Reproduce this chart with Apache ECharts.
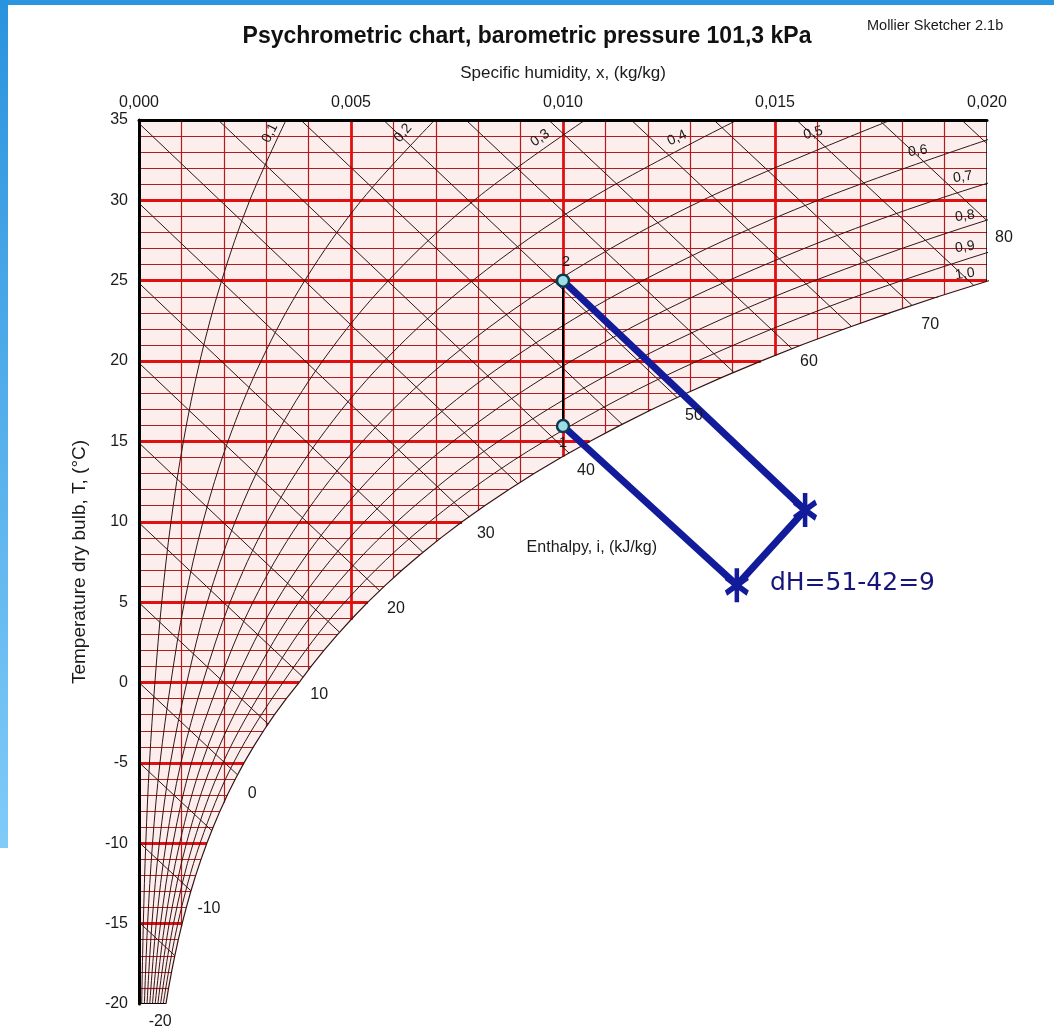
<!DOCTYPE html>
<html><head><meta charset="utf-8">
<script src="https://cdn.jsdelivr.net/npm/echarts@6/dist/echarts.min.js"></script>
<style>html,body{margin:0;padding:0;background:#fff}#c{width:1054px;height:1028px}</style>
</head><body><div id="c"></div>
<script>
// ---------------- data ----------------
// saturation curve (RH = 1,0): specific humidity at each dry-bulb temperature
const satT = [-20,-19,-18,-17,-16,-15,-14,-13,-12,-11,-10,-9,-8,-7,-6,-5,-4,-3,-2,-1,0,1,2,3,4,5,6,7,8,9,10,11,12,13,14,15,16,17,18,19,20,21,22,23,24,25,26];
const satX = [0.000635,0.000698,0.000768,0.000844,0.000927,0.001017,0.001115,0.001221,0.001337,0.001463,0.0016,0.001748,0.001909,0.002083,0.002272,0.002476,0.002698,0.002937,0.003195,0.003474,0.003774,0.004059,0.004362,0.004686,0.005031,0.005398,0.005789,0.006206,0.006649,0.00712,0.00762,0.008152,0.008717,0.009317,0.009954,0.010629,0.011345,0.012104,0.012909,0.013762,0.014665,0.015622,0.016634,0.017706,0.01884,0.020039,0.021307];

// constant humidity lines and the temperature where each meets saturation
const gridX    = [0.001,0.002,0.003,0.004,0.005,0.006,0.007,0.008,0.009,0.010,0.011,0.012,0.013,0.014,0.015,0.016,0.017,0.018,0.019];
const gridDewT = [-15.19,-7.48,-2.76,0.79,3.91,6.51,8.75,10.71,12.47,14.07,15.52,16.86,18.11,19.26,20.35,21.37,22.34,23.26,24.13];

// constant enthalpy lines (kJ/kg): start and end points
const hVals   = [-20,-15,-10,-5,0,5,10,15,20,25,30,35,40,45,50,55,60,65,70,75,80,85];
const hStartX = [0,0,0,0,0,0,0,0,0,0,0,0,0.001867,0.003815,0.005764,0.007712,0.009661,0.011609,0.013558,0.015506,0.017455,0.019403];
const hStartT = [-19.88,-14.91,-9.94,-4.97,0,4.97,9.94,14.91,19.88,24.85,29.82,34.79,35,35,35,35,35,35,35,35,35,35];
const hEndX   = [0.00005,0.000845,0.001226,0.001717,0.002324,0.003044,0.003867,0.004729,0.005676,0.006697,0.007787,0.008937,0.010142,0.011394,0.012692,0.014028,0.015399,0.016801,0.018232,0.019688,0.02,0.02];
const hEndT   = [-20,-16.99,-12.96,-9.21,-5.74,-2.58,0.33,3.13,5.71,8.10,10.31,12.37,14.28,16.07,17.73,19.30,20.77,22.16,23.46,24.71,28.74,33.53];

// relative humidity curves
const rhT  = [-20,-15,-10,-5,0,5,10,15,20,25,30,35];
const rh10 = [0.0000634,0.000102,0.00016,0.000247,0.000375,0.000536,0.000754,0.001047,0.001436,0.001948,0.002612,0.003469];
const rh20 = [0.000127,0.000203,0.000319,0.000494,0.000751,0.001072,0.001509,0.002097,0.002879,0.003907,0.005247,0.006976];
const rh30 = [0.00019,0.000305,0.000479,0.000741,0.001127,0.00161,0.002267,0.003151,0.004328,0.005879,0.007903,0.010523];
const rh40 = [0.000254,0.000406,0.000639,0.000988,0.001504,0.002148,0.003026,0.004209,0.005784,0.007864,0.010583,0.01411];
const rh50 = [0.000317,0.000508,0.000799,0.001236,0.001881,0.002687,0.003787,0.00527,0.007247,0.009861,0.013285,0.017738];
const rh60 = [0.000381,0.00061,0.000959,0.001483,0.002259,0.003228,0.00455,0.006334,0.008717,0.011871,0.01601,0.021408];
const rh70 = [0.000444,0.000712,0.001119,0.001731,0.002637,0.003769,0.005315,0.007403,0.010194,0.013893,0.018759,0.02512];
const rh80 = [0.000508,0.000813,0.001279,0.001979,0.003016,0.004311,0.006081,0.008474,0.011677,0.015929,0.021531,0.028876];
const rh90 = [0.000571,0.000915,0.00144,0.002228,0.003395,0.004854,0.00685,0.00955,0.013168,0.017978,0.024328,0.032674];

// curve labels
const rhLabels = ['0,1','0,2','0,3','0,4','0,5','0,6','0,7','0,8','0,9','1,0'];
const rhLabelX = [0.00309,0.00623,0.00946,0.01269,0.0159,0.01837,0.01943,0.01948,0.01948,0.01948];
const rhLabelT = [34.19,34.19,33.88,33.88,34.19,33.07,31.45,29.03,27.10,25.42];
const rhLabelRot = [63,50,35,25,15,8,8,8,8,8];
const hLabels = ['-20','-10','0','10','20','30','40','50','60','70','80'];
const hLabelX = [0.0005,0.00165,0.00267,0.00425,0.00606,0.00818,0.01054,0.01309,0.0158,0.01866,0.0204];
const hLabelT = [-21.07,-14.04,-6.88,-0.78,4.57,9.24,13.16,16.64,19.94,22.24,27.66];

// air treatment process: points 2 -> A -> B -> 1
const procX = [0.010,0.01571,0.01410,0.010];
const procT = [25.0,10.73,6.06,15.96];

// ---------------- build ----------------
const X_MAX = 0.02, T_MIN = -20, T_MAX = 35;
const RED_THIN = '#b31c1c', RED_BOLD = '#e01010', DARK = '#351414';

const isoData = [];
for (let T = T_MIN; T < T_MAX; T++) {
  const i = satT.indexOf(T);
  const xe = i >= 0 ? Math.min(satX[i], X_MAX) : X_MAX;
  let ls;
  if (T === T_MIN) ls = {color:'#000', width:3, opacity:1};
  else if (T % 5 === 0) ls = {color:RED_BOLD, width:2.8, opacity:1};
  else ls = {color:RED_THIN, width:1.2, opacity:1};
  isoData.push({coords:[[0,T],[xe,T]], lineStyle:ls});
}
const vertData = gridX.map((x,i) => {
  const bold = Math.abs(Math.round(x*1000) % 5) === 0;
  return {coords:[[x,gridDewT[i]],[x,T_MAX]], lineStyle: bold ? {color:RED_BOLD,width:2.8,opacity:1} : {color:RED_THIN,width:1.2,opacity:1}};
});
vertData.push({coords:[[X_MAX,24.97],[X_MAX,T_MAX]], lineStyle:{color:'#000',width:2.5,opacity:1}});
const hData = hVals.map((h,i) => ({coords:[[hStartX[i],hStartT[i]],[hEndX[i],hEndT[i]]]}));

const rhSeries = [rh10,rh20,rh30,rh40,rh50,rh60,rh70,rh80,rh90].map(arr => ({
  type:'line', data: arr.map((x,i)=>[x,rhT[i]]), showSymbol:false, smooth:0.35,
  clip:true, silent:true, z:3, lineStyle:{color:DARK,width:1}
}));

// shaded chart body (between the temperature axis and saturation)
const bodyPts = [[0,T_MIN]];
satT.forEach((T,i)=>{ if (satX[i] <= X_MAX) bodyPts.push([satX[i],T]); });
bodyPts.push([X_MAX,24.97],[X_MAX,T_MAX],[0,T_MAX]);

const asterisk = 'path://M9.8,0L14.2,0L14.2,24L9.8,24Z M0.3,8.3L2.5,4.5L23.7,15.7L21.5,19.5Z M2.5,19.5L0.3,15.7L21.5,4.5L23.7,8.3Z';

const FONT = 'Liberation Sans, Arial, sans-serif';
const labelData = [];
rhLabels.forEach((t,i)=>labelData.push({value:[rhLabelX[i],rhLabelT[i]], label:{formatter:t, rotate:rhLabelRot[i], fontSize:14}}));
hLabels.forEach((t,i)=>labelData.push({value:[hLabelX[i],hLabelT[i]], label:{formatter:t, fontSize:16}}));
labelData.push({value:[0.01068,8.37], label:{formatter:'Enthalpy, i, (kJ/kg)', fontSize:16}});
labelData.push({value:[0.01007,26.2], label:{formatter:'2', fontSize:15}});
labelData.push({value:[0.01,14.9], label:{formatter:'1', fontSize:15}});

const option = {
  animation:false,
  backgroundColor:'#fff',
  title:{text:'Psychrometric chart, barometric pressure 101,3 kPa', left:'center', top:20,
    textStyle:{fontFamily:FONT, fontSize:23, fontWeight:'bold', color:'#111'}},
  grid:{left:139, top:120, right:67, bottom:24, containLabel:false},
  xAxis:{type:'value', position:'top', min:0, max:X_MAX, interval:0.005, z:10,
    name:'Specific humidity, x, (kg/kg)', nameLocation:'middle', nameGap:38,
    nameTextStyle:{fontFamily:FONT, fontSize:17, color:'#1a1a1a'},
    axisLine:{show:true, onZero:false, lineStyle:{color:'#000', width:3}},
    axisTick:{show:false}, splitLine:{show:false},
    axisLabel:{fontFamily:FONT, fontSize:16, color:'#1a1a1a', margin:9,
      formatter:v=>v.toFixed(3).replace('.',',')}},
  yAxis:{type:'value', min:T_MIN, max:T_MAX, interval:5, z:10,
    name:'Temperature dry bulb, T, (°C)', nameLocation:'middle', nameGap:50,
    nameTextStyle:{fontFamily:FONT, fontSize:19, color:'#1a1a1a'},
    axisLine:{show:true, onZero:false, lineStyle:{color:'#000', width:3}},
    axisTick:{show:false}, splitLine:{show:false},
    axisLabel:{fontFamily:FONT, fontSize:16, color:'#1a1a1a', margin:11}},
  graphic:[
    {type:'rect', left:0, top:0, shape:{width:1054, height:5}, style:{fill:'#2b96df'}, z:100},
    {type:'rect', left:0, top:0, shape:{width:8, height:848},
      style:{fill:new echarts.graphic.LinearGradient(0,0,0,1,[{offset:0,color:'#2a93de'},{offset:1,color:'#80cbf8'}])}, z:100},
    {type:'text', left:867, top:18, style:{text:'Mollier Sketcher 2.1b', font:'14.5px Liberation Sans', fill:'#1a1a1a'}}
  ],
  series:[
    {type:'custom', z:0, silent:true, data:[0], renderItem:(p,api)=>({
      type:'polygon', shape:{points:bodyPts.map(q=>api.coord(q))}, style:{fill:'#fdeeee'}})},
    {type:'lines', coordinateSystem:'cartesian2d', silent:true, z:1, data:isoData},
    {type:'lines', coordinateSystem:'cartesian2d', silent:true, z:1, data:vertData},
    {type:'lines', coordinateSystem:'cartesian2d', silent:true, z:2, data:hData, lineStyle:{color:DARK,width:1, opacity:1}},
    ...rhSeries,
    {type:'line', data:satX.map((x,i)=>[x,satT[i]]), showSymbol:false, clip:true, silent:true, z:3,
      lineStyle:{color:DARK,width:1.2}},
    {type:'line', data:[[procX[0],procT[0]],[procX[3],procT[3]]], showSymbol:false, silent:true, z:4,
      lineStyle:{color:'#000',width:2}},
    {type:'line', data:procX.map((x,i)=>[x,procT[i]]), showSymbol:false, silent:true, z:5, clip:false,
      lineStyle:{color:'#121c9a',width:7, cap:'round', join:'round'}},
    {type:'scatter', z:6, silent:true, clip:false, symbol:'circle', symbolSize:12,
      itemStyle:{color:'#9fdde6', borderColor:'#0b3b4f', borderWidth:2.5, opacity:1},
      data:[[procX[0],procT[0]],[procX[3],procT[3]]]},
    {type:'scatter', z:6, silent:true, clip:false, symbol:asterisk, symbolSize:[24,34],
      itemStyle:{color:'#121c9a', opacity:1},
      data:[[procX[1],procT[1]],[procX[2],procT[2]]]},
    {type:'scatter', z:7, silent:true, clip:false, symbolSize:1, itemStyle:{color:'rgba(0,0,0,0)', opacity:1},
      label:{show:true, position:'inside', color:'#1a1a1a', fontFamily:FONT, opacity:1},
      data:labelData},
    {type:'scatter', z:7, silent:true, clip:false, symbolSize:1, itemStyle:{color:'rgba(0,0,0,0)', opacity:1},
      label:{show:true, position:'inside', align:'left', color:'#15157a', fontFamily:'DejaVu Sans, sans-serif', fontSize:25,
        formatter:'dH=51-42=9', opacity:1},
      data:[[0.01488,6.19]]}
  ]
};
const chart = echarts.init(document.getElementById('c'));
chart.setOption(option);
</script></body></html>
